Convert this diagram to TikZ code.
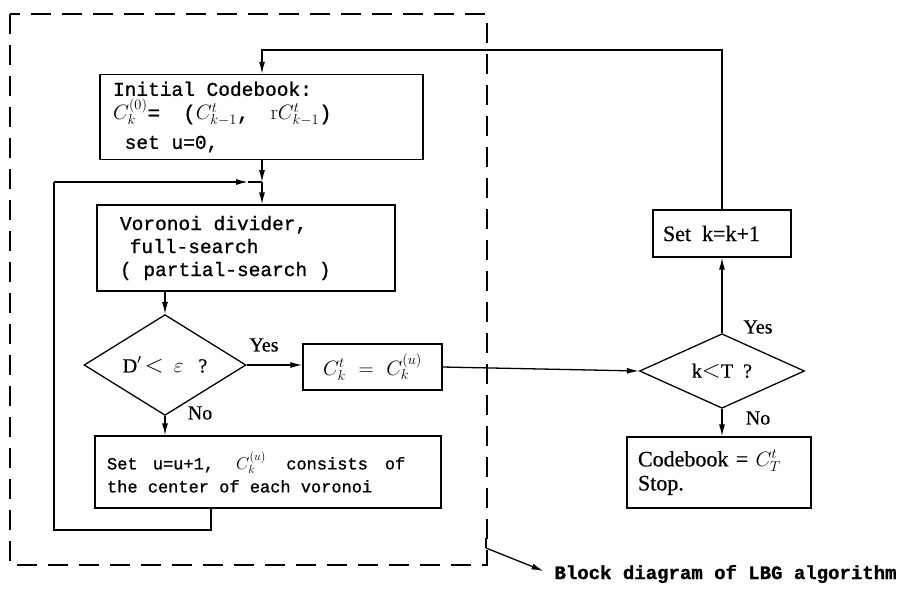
\documentclass[tikz,border=0pt]{standalone}
\usepackage{fontspec}
\setmonofont{Liberation Mono}[FakeBold=1]
\newfontfamily\rmtext{Liberation Serif}[FakeBold=0.6]
\usetikzlibrary{shapes.geometric,arrows.meta}
% typewriter text in the boxes
\newcommand\boxtext[1]{\ttfamily\fontsize{#1}{25}\selectfont}
% one full typewriter space
\newcommand\gp{\hspace*{0.6em}}
\begin{document}
\begin{tikzpicture}[x=1pt,y=-1pt,
  box/.style={draw,line width=1.3pt,rectangle,inner sep=0pt,align=left},
  dec/.style={draw,line width=1.3pt,diamond,inner sep=0pt},
  flow/.style={line width=1.3pt,-{Latex[length=12pt,width=6pt]}},
  plain/.style={line width=1.3pt},
  mono/.style={font=\boxtext{19.5}},
  monosm/.style={font=\boxtext{17}},
  serif/.style={font=\rmtext\fontsize{22}{24}\selectfont},
  lbl/.style={font=\rmtext\fontsize{20}{22}\selectfont},
  frame/.style={line width=1.4pt,dash pattern=on 20pt off 11pt}]
\useasboundingbox (0,0) rectangle (903,590);

% enclosing dashed frame
\draw[frame] (10,14) rectangle (487,565);

% boxes
\node[box,mono,minimum width=323pt,minimum height=85pt,text width=297pt] (init) at (261.5,117)
  {Initial\gp Codebook:\\[-1pt]
   {\fontsize{21}{25}\selectfont$C^{(0)}_{k}$=\hspace*{1.1em}($C^{t}_{k-1}$,\hspace*{1em}$\mathrm{r}C^{t}_{k-1}$)}\\[4pt]
   \gp set\gp u=0,};
\node[box,mono,minimum width=298pt,minimum height=86pt,text width=252pt] (vor) at (246,248)
  {Voronoi\gp divider,\\[-2pt]
   \hspace*{0.5em}full-search\\[-2pt]
   (\gp partial-search\gp)};
\node[dec,minimum width=162pt,minimum height=66pt] (d1) at (165,365)
  {\rmtext\fontsize{20}{22}\selectfont D$'$\,{\fontsize{30}{30}\selectfont$<$}\ \ $\varepsilon$\ \ \ ?};
\node[box,minimum width=139pt,minimum height=46pt,align=center] (cb) at (372.5,367)
  {\fontsize{21}{22}\selectfont$C^{t}_{k}$\ \ =\ \ $C^{(u)}_{k}$};
\node[box,monosm,minimum width=346pt,minimum height=72pt,text width=322pt] (setu) at (268,472)
  {Set\hspace*{0.9em}u=u+1,\hspace*{1.3em}$C^{(u)}_{k}$\hspace*{1.2em}consists\hspace*{1em}of\\[-2pt]
   the\gp center\gp of\gp each\gp voronoi};

\node[dec,minimum width=165pt,minimum height=67pt] (d2) at (722,371)
  {\rmtext\fontsize{20}{22}\selectfont k{\fontsize{26}{26}\selectfont$<$}T\ \ ?};
\node[box,serif,minimum width=138pt,minimum height=47pt,text width=118pt] (setk) at (722,233.5)
  {Set\, k=k+1};
\node[box,serif,minimum width=184pt,minimum height=71pt,text width=162pt] (cbook) at (719,472.5)
  {Codebook = $C^{t}_{T}$\\ Stop.};

% helper points
\coordinate (j) at (262,182);
\coordinate (jin) at (248,182);
\coordinate (fb) at (262,50);
\coordinate (lpa) at (211,530);
\coordinate (lpb) at (54,530);
\coordinate (lpc) at (54,182);

% connectors
\draw[flow] (setk.north) |- (fb) -- (fb |- init.north);
\draw[flow] (init.south -| j) -- (j);
\draw[flow] (j) -- (j |- vor.north);
\draw[plain] (lpa |- setu.south) -- (lpa) -- (lpb) -- (lpc);
\draw[flow] (lpc) -- (jin);
\draw[plain] (jin) -- (j);
\draw[flow] (d1.north |- vor.south) -- (d1.north);
\draw[flow] (d1.east) -- (cb.west |- d1.east);
\draw[flow] (d1.south) -- (d1.south |- setu.north);
\draw[flow] (cb.east) -- (d2.west);
\draw[flow] (d2.north) -- (d2.north |- setk.south);
\draw[flow] (d2.south) -- (d2.south |- cbook.north);

% branch labels
\node[lbl] (y1) at (264,345) {Yes};
\node[lbl] (n1) at (200,413) {No};
\node[lbl] (y2) at (758,327) {Yes};
\node[lbl] (n2) at (758,418) {No};

% caption
\node[anchor=west,font=\ttfamily\bfseries\fontsize{19}{20}\selectfont] (cap) at (551,574)
  {Block diagram of LBG algorithm};
\coordinate (bx) at (486,548);
\draw[plain] (bx) -- (486,538);
\draw[flow,shorten >=8pt] (bx) -- (cap.west);
\end{tikzpicture}
\end{document}
